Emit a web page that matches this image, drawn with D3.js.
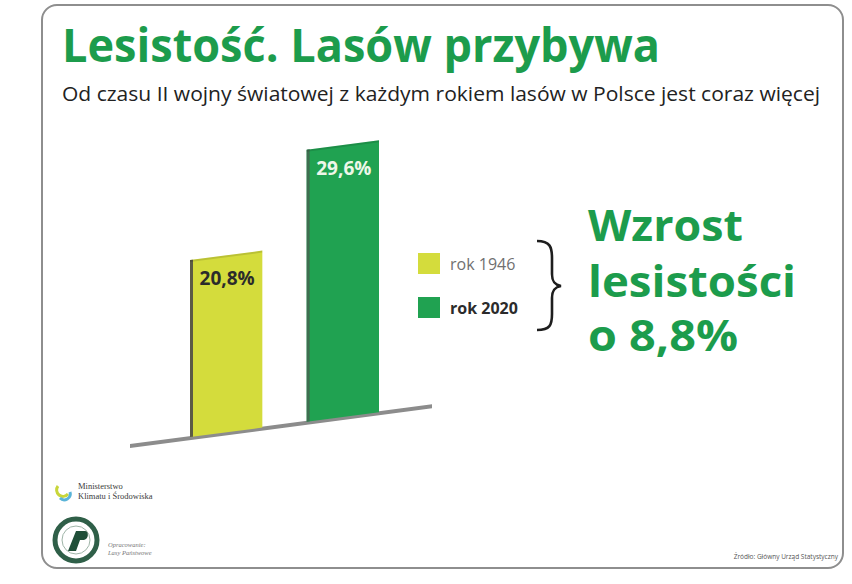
<!DOCTYPE html>
<html><head><meta charset="utf-8">
<script src="https://cdn.jsdelivr.net/npm/d3@7"></script>
<style>html,body{margin:0;padding:0;background:#fff;}svg{display:block;}</style>
</head><body>
<svg id="c" width="852" height="584"></svg>
<script>
const categories = ["rok 1946", "rok 2020"];
const values = [20.8, 29.6];
const valueLabels = ["20,8%", "29,6%"];
const colors = ["#d4dc3c", "#20a251"];
const title = "Lesistość. Lasów przybywa";
const subtitle = "Od czasu II wojny światowej z każdym rokiem lasów w Polsce jest coraz więcej";
const sideText = ["Wzrost", "lesistości", "o 8,8%"];
const source = "Źródło: Główny Urząd Statystyczny";

const svg = d3.select("#c");
const green = "#1c9c4c";

// frame
svg.append("rect").attr("x", 42).attr("y", 5).attr("width", 801).attr("height", 563)
  .attr("rx", 15).attr("fill", "#fff").attr("stroke", "#8e8e8e").attr("stroke-width", 2);

svg.append("text").attr("x", 62).attr("y", 62).text(title)
  .attr("font-family", "Open Sans").attr("font-weight", 700).attr("font-size", 47)
  .attr("fill", green).attr("textLength", 598).attr("lengthAdjust", "spacingAndGlyphs");

svg.append("text").attr("x", 62).attr("y", 101).text(subtitle)
  .attr("font-family", "Open Sans").attr("font-size", 20.5)
  .attr("fill", "#222").attr("textLength", 758).attr("lengthAdjust", "spacingAndGlyphs");

// skewed bar chart
const ox = 130, oy = 445, skew = -7.5;
const t = Math.tan(-skew * Math.PI / 180);
const x = d3.scaleBand().domain(categories).range([60, 249]).paddingInner(0.38).paddingOuter(0);
const h = d3.scaleLinear().domain([4.4, 29.6]).range([0, 272]);
const g = svg.append("g").attr("transform", `translate(${ox},${oy}) skewY(${skew})`);

g.append("line").attr("x1", 0).attr("x2", 302).attr("y1", 1).attr("y2", 1)
  .attr("stroke", "#8c8c8c").attr("stroke-width", 4);

const edge = ["#5b5b45", "#3f6e50"];
categories.forEach((c, i) => {
  g.append("rect").attr("x", x(c)).attr("y", -h(values[i])).attr("width", x.bandwidth())
    .attr("height", h(values[i])).attr("fill", colors[i]);
  g.append("rect").attr("x", x(c)).attr("y", -h(values[i])).attr("width", 3)
    .attr("height", h(values[i])).attr("fill", edge[i]);
  g.append("rect").attr("x", x(c)).attr("y", -h(values[i])).attr("width", x.bandwidth())
    .attr("height", 2).attr("fill", "#000").attr("opacity", 0.12);
});

// labels (unskewed)
const labelColor = ["#2b2b2b", "#eef7e8"];
categories.forEach((c, i) => {
  const lx = x(c) + x.bandwidth() / 2;
  const sx = ox + lx;
  const sy = oy - h(values[i]) - t * lx;
  svg.append("text").attr("x", sx + 1).attr("y", sy + 30).text(valueLabels[i])
    .attr("text-anchor", "middle").attr("font-family", "Open Sans").attr("font-weight", 700)
    .attr("font-size", 19).attr("fill", labelColor[i]);
});

// legend
const ly = d3.scalePoint().domain(categories).range([253, 297]);
categories.forEach((c, i) => {
  svg.append("rect").attr("x", 418).attr("y", ly(c)).attr("width", 22).attr("height", 21)
    .attr("fill", colors[i]);
  svg.append("text").attr("x", 450).attr("y", ly(c) + 17).text(c)
    .attr("font-family", "Open Sans").attr("font-size", 16)
    .attr("font-weight", i === 1 ? 700 : 400)
    .attr("fill", i === 1 ? "#2b2b2b" : "#707070");
});

// brace
svg.append("path")
  .attr("d", "M537,241 C550,241 552,247 552,258 L552,274 C552,282 555,285 561,286 C555,287 552,290 552,298 L552,314 C552,325 550,330 537,330")
  .attr("fill", "none").attr("stroke", "#1e1e1e").attr("stroke-width", 2.6);

// side text
const sideY = [241, 297, 351], sideW = [155, 208, 150];
sideText.forEach((s, i) => {
  svg.append("text").attr("x", 588).attr("y", sideY[i]).text(s)
    .attr("font-family", "Open Sans").attr("font-weight", 700).attr("font-size", 43)
    .attr("fill", green).attr("textLength", sideW[i]).attr("lengthAdjust", "spacingAndGlyphs");
});

// ministry logo
const lg = svg.append("g");
lg.append("path").attr("d", "M58,486 a6,6 0 1,0 10,8").attr("fill", "none").attr("stroke", "#c8d63a").attr("stroke-width", 3);
lg.append("path").attr("d", "M60,498 a6,6 0 0,0 10,-6").attr("fill", "none").attr("stroke", "#5ab4d8").attr("stroke-width", 3);
lg.append("text").attr("x", 78).attr("y", 489).text("Ministerstwo")
  .attr("font-family", "Liberation Serif").attr("font-size", 8.5).attr("fill", "#3a3a3a");
lg.append("text").attr("x", 78).attr("y", 499).text("Klimatu i Środowiska")
  .attr("font-family", "Liberation Serif").attr("font-size", 8.5).attr("fill", "#3a3a3a");

// LP logo
lg.append("circle").attr("cx", 76).attr("cy", 540).attr("r", 21).attr("fill", "#fff").attr("stroke", "#2f5f48").attr("stroke-width", 5);
lg.append("circle").attr("cx", 76).attr("cy", 540).attr("r", 14).attr("fill", "#fff").attr("stroke", "#9fb5a8").attr("stroke-width", 1);
lg.append("path").attr("d", "M68,551 L76,531 L85,531 C89,531 89,539 84,540 L80,540 L76,551 Z").attr("fill", "#1f4f38");
lg.append("text").attr("x", 108).attr("y", 547).text("Opracowanie:")
  .attr("font-family", "Liberation Serif").attr("font-style", "italic").attr("font-size", 6.5).attr("fill", "#777");
lg.append("text").attr("x", 108).attr("y", 555).text("Lasy Państwowe")
  .attr("font-family", "Liberation Serif").attr("font-style", "italic").attr("font-size", 6.5).attr("fill", "#777");

svg.append("text").attr("x", 838).attr("y", 559).attr("text-anchor", "end").text(source)
  .attr("font-family", "Open Sans").attr("font-size", 6.5).attr("fill", "#555");
</script>
</body></html>
